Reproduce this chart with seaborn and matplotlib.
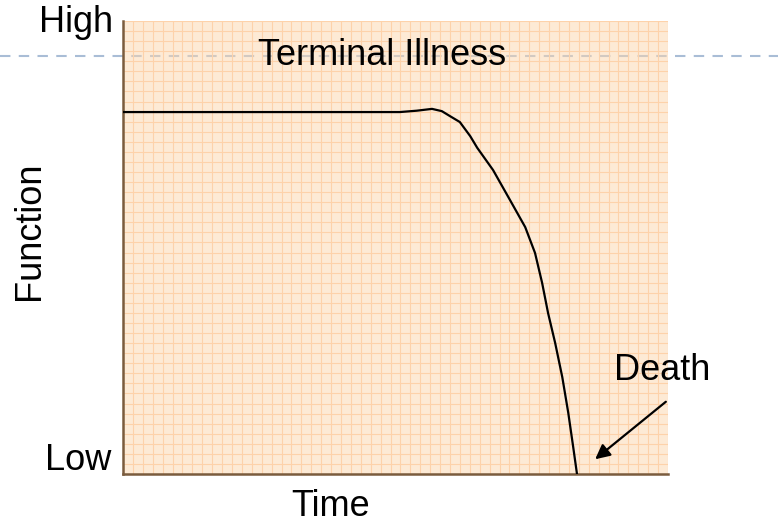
import numpy as np
import pandas as pd
import seaborn as sns
import matplotlib
matplotlib.use("Agg")
import matplotlib.pyplot as plt
from matplotlib.lines import Line2D

# trajectory of function over time (0-100 scale)
time_pts = [0, 50.8, 53.9, 56.7, 58.5, 60.0, 61.8, 63.7, 65.0, 67.9, 71.0, 73.8, 75.6, 76.9, 78.0, 79.3, 80.6, 81.7, 82.6, 83.3]
func_pts = [79.9, 79.9, 80.2, 80.6, 80.1, 79.0, 77.7, 74.6, 72.0, 67.1, 60.5, 54.5, 48.8, 42.2, 35.5, 28.9, 21.4, 13.5, 6.0, 0.0]

title_text = "Terminal Illness"
y_labels = ["Low", "High"]
x_label = "Time"
y_label = "Function"
event_label = "Death"

sns.set_style("white")
plt.rcParams['font.family'] = ['Liberation Sans', 'DejaVu Sans']
plt.rcParams['text.color'] = 'black'

fig = plt.figure(figsize=(7.78, 5.27), dpi=100)

# dashed divider across the slide, behind the chart
fig.add_artist(Line2D([0, 1], [1 - 56 / 527, 1 - 56 / 527], transform=fig.transFigure,
                      color='#a9bdd6', lw=1.5, ls=(0, (5, 4)), zorder=0))

ax = fig.add_axes([123 / 778, 1 - 474 / 527, 545 / 778, 453 / 527])
ax.set_facecolor((0.99, 0.84, 0.68, 0.5))
ax.patch.set_zorder(1)
ax.set_xlim(0, 100)
ax.set_ylim(0, 100)

# graph paper grid
for gx in np.linspace(0, 100, 56):
    ax.axvline(gx, color='#fdd2aa', lw=0.8, zorder=1.5)
for gy in np.linspace(0, 100, 46):
    ax.axhline(gy, color='#fdd2aa', lw=0.8, zorder=1.5)

df = pd.DataFrame({"time": time_pts, "function": func_pts})
sns.lineplot(data=df, x="time", y="function", ax=ax, color='black', lw=1.6,
             sort=False, zorder=3)

ax.set_xticks([])
ax.set_yticks([])
ax.set_xlabel("")
ax.set_ylabel("")
for s in ['top', 'right']:
    ax.spines[s].set_visible(False)
for s in ['left', 'bottom']:
    ax.spines[s].set_color('#7a5c3e')
    ax.spines[s].set_linewidth(1.8)

fs = 26
ax.text(47.6, 92.3, title_text, ha='center', va='center', fontsize=fs, color='black', zorder=4)
fig.text(113 / 778, 1 - 22 / 527, y_labels[1], ha='right', va='center', fontsize=fs, color='black')
fig.text(111 / 778, 1 - 460 / 527, y_labels[0], ha='right', va='center', fontsize=fs, color='black')
fig.text(30 / 778, 1 - 231 / 527, y_label, ha='center', va='center', rotation=90, fontsize=fs, color='black')
fig.text(331 / 778, 1 - 506 / 527, x_label, ha='center', va='center', fontsize=fs, color='black')
fig.text(662 / 778, 1 - 370 / 527, event_label, ha='center', va='center', fontsize=fs, color='black')

ax.annotate("", xy=(593 / 778, 1 - 461 / 527), xycoords='figure fraction',
            xytext=(668 / 778, 1 - 400 / 527), textcoords='figure fraction',
            arrowprops=dict(arrowstyle='-|>', color='black', lw=1.6, mutation_scale=22),
            annotation_clip=False, zorder=5)

fig.savefig("out.png", dpi=100)
